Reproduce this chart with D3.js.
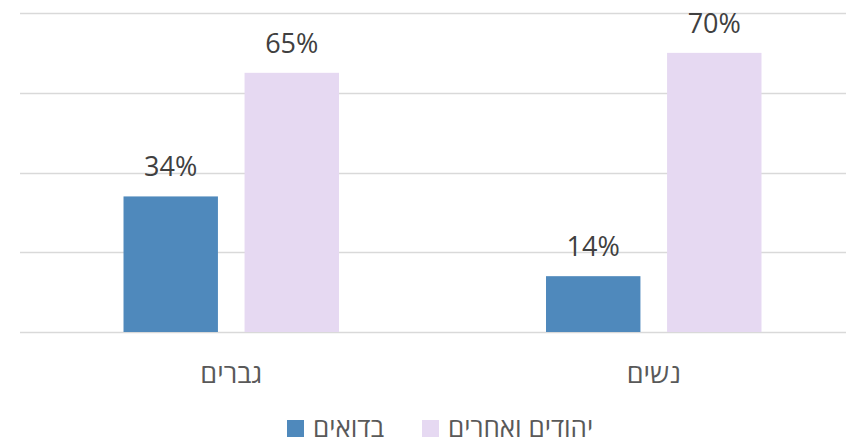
<!DOCTYPE html>
<html>
<head>
<meta charset="utf-8">
<script src="https://cdn.jsdelivr.net/npm/d3@7"></script>
<style>
  body { margin: 0; background: #fff; }
  text { font-family: "Open Sans", "DejaVu Sans", sans-serif; }
</style>
</head>
<body>
<div id="chart"></div>
<script>
// data
var categories = ["גברים", "נשים"];
var seriesNames = ["בדואים", "יהודים ואחרים"];
var bedouin = [34, 14];
var jewsOthers = [65, 70];
var yTicks = [0, 20, 40, 60, 80];

var colors = ["#4f89bc", "#e6d9f2"];

var width = 846, height = 445;
var margin = { top: 13, right: -19, bottom: 113, left: 20 };

var svg = d3.select("#chart").append("svg")
  .attr("width", width)
  .attr("height", height);

var innerW = width - margin.left - margin.right;
var innerH = height - margin.top - margin.bottom;

var g = svg.append("g")
  .attr("transform", "translate(" + margin.left + "," + margin.top + ")");

var x0 = d3.scaleBand()
  .domain(categories)
  .range([0, innerW]);

var x1 = d3.scaleBand()
  .domain(seriesNames)
  .range([x0.bandwidth() * 0.245, x0.bandwidth() * 0.755])
  .paddingInner(0.22);

var y = d3.scaleLinear()
  .domain([0, 80])
  .range([innerH, 0]);

// gridlines
g.append("g")
  .selectAll("line")
  .data(yTicks)
  .enter()
  .append("line")
  .attr("x1", 0)
  .attr("x2", innerW)
  .attr("y1", function(d) { return Math.round(y(d)) + 0.5; })
  .attr("y2", function(d) { return Math.round(y(d)) + 0.5; })
  .attr("stroke", "#d9d9d9")
  .attr("stroke-width", 1.5);

var rows = categories.map(function(c, i) {
  return { cat: c, vals: [bedouin[i], jewsOthers[i]] };
});

var groups = g.selectAll(".grp")
  .data(rows)
  .enter()
  .append("g")
  .attr("class", "grp")
  .attr("transform", function(d) { return "translate(" + x0(d.cat) + ",0)"; });

var bars = groups.selectAll(".bar")
  .data(function(d) {
    return d.vals.map(function(v, j) { return { name: seriesNames[j], v: v, j: j }; });
  })
  .enter();

bars.append("rect")
  .attr("class", "bar")
  .attr("x", function(d) { return x1(d.name); })
  .attr("width", x1.bandwidth())
  .attr("y", function(d) { return y(d.v); })
  .attr("height", function(d) { return innerH - y(d.v); })
  .attr("fill", function(d) { return colors[d.j]; });

bars.append("text")
  .attr("x", function(d) { return x1(d.name) + x1.bandwidth() / 2; })
  .attr("y", function(d) { return y(d.v) - 20; })
  .attr("text-anchor", "middle")
  .attr("font-size", 27)
  .attr("fill", "#404040")
  .text(function(d) { return d.v + "%"; });

// category labels
g.selectAll(".cat")
  .data(categories)
  .enter()
  .append("text")
  .attr("class", "cat")
  .attr("x", function(d) { return x0(d) + x0.bandwidth() / 2; })
  .attr("y", innerH + 51)
  .attr("text-anchor", "middle")
  .attr("direction", "rtl")
  .attr("font-size", 27)
  .attr("fill", "#595959")
  .text(function(d) { return d; });

// legend (moved up a little so it is not cut at the bottom edge)
var legendX = [287, 422];
var legend = svg.selectAll(".leg")
  .data(seriesNames)
  .enter()
  .append("g")
  .attr("class", "leg")
  .attr("transform", function(d, i) { return "translate(" + legendX[i] + ",420)"; });

legend.append("rect")
  .attr("width", 17)
  .attr("height", 17)
  .attr("fill", function(d, i) { return colors[i]; });

legend.append("text")
  .attr("x", 26)
  .attr("y", 17)
  .attr("font-size", 26)
  .attr("fill", "#595959")
  .text(function(d) { return d; });
</script>
</body>
</html>
